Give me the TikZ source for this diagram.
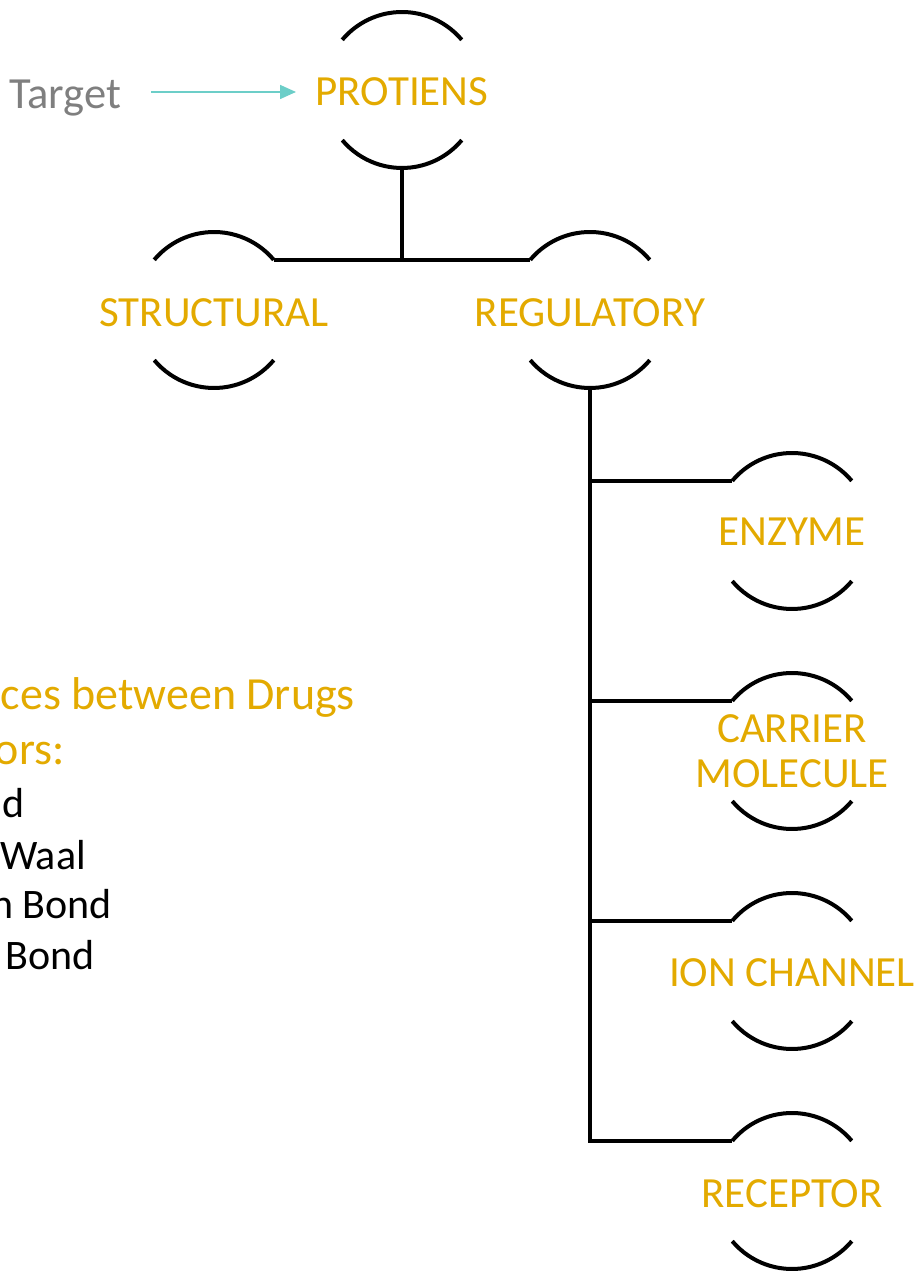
\documentclass[tikz,border=0pt]{standalone}
\usepackage{fontspec}
\setmainfont{Carlito}
\usetikzlibrary{arrows.meta}
\definecolor{gold}{RGB}{227,170,0}
\definecolor{tealarrow}{RGB}{108,206,200}
\definecolor{greytext}{RGB}{127,127,127}
\begin{document}
\begin{tikzpicture}[x=1pt,y=1pt,
  blob/.style={circle, minimum size=156pt, inner sep=0pt, outer sep=0pt},
  word/.style={inner sep=0pt, text=gold, font=\fontsize{43}{46}\selectfont, align=center},
  rim/.style={line width=4pt, line cap=butt},
  link/.style={line width=4pt, line join=miter},
  headline/.style={anchor=base east, inner sep=0pt, text=gold, font=\fontsize{46}{50}\selectfont},
  bodyline/.style={anchor=base east, inner sep=0pt, text=black, font=\fontsize{42}{46}\selectfont},
  pointer/.style={line width=1.6pt, draw=tealarrow, -{Triangle[length=16pt,width=14pt]}}
]
\useasboundingbox (0,0) rectangle (920,1272);
\clip (0,0) rectangle (920,1272);

% circle outlines (empty nodes) and their labels
\node[blob] (prot)  at (402,1182) {};
\node[blob] (struc) at (214,962) {};
\node[blob] (regu)  at (590,962) {};
\node[blob] (enz)   at (792,741) {};
\node[blob] (carr)  at (792,521) {};
\node[blob] (ion)   at (792,301) {};
\node[blob] (rec)   at (792,81) {};

\node[word, anchor=base] (protT)  at (402,1166) {PROTIENS};
\node[word, anchor=base] (strucT) at (214,945) {STRUCTURAL};
\node[word, anchor=base] (reguT)  at (590,945) {REGULATORY};
\node[word, anchor=base] (enzT)   at (792,726) {ENZYME};
\node[word, anchor=base] (carrT1) at (792,529) {CARRIER};
\node[word, anchor=base] (carrT2) at (792,484) {MOLECULE};
\node[word, anchor=base] (ionT)   at (792,285) {ION CHANNEL};
\node[word, anchor=base] (recT)   at (792,64) {RECEPTOR};

\foreach \n in {prot,struc,regu,enz,carr,ion,rec}{
  \draw[rim] (\n.40) arc[start angle=40, end angle=140, radius=78pt];
  \draw[rim] (\n.220) arc[start angle=220, end angle=320, radius=78pt];
}

% tree connectors
\draw[link] (prot.south) -- (prot.south |- struc.40);
\draw[link] (struc.40) -- (regu.140);
\draw[link] (regu.south) -- (regu.south |- rec.140) -- (rec.140);
\draw[link] (regu.south |- enz.140) -- (enz.140);
\draw[link] (regu.south |- carr.140) -- (carr.140);
\draw[link] (regu.south |- ion.140) -- (ion.140);

% target arrow
\node[anchor=base west, inner sep=0pt, text=greytext, font=\fontsize{44.5}{48}\selectfont] (target) at (9,1163) {Target};
\draw[pointer] ([xshift=30pt,yshift=17pt]target.base east) -- ([xshift=-28pt,yshift=-2pt]prot.west);

% cut-off text at left
\node[headline] (h1) at (355,562) {ces between Drugs};
\node[headline] (h2) at (65,507) {ors:};
\node[bodyline] (b1) at (25,454) {nd};
\node[bodyline] (b2) at (86,402) {Waal};
\node[bodyline] (b3) at (112,353) {n Bond};
\node[bodyline] (b4) at (95,302) {Bond};
\end{tikzpicture}
\end{document}
